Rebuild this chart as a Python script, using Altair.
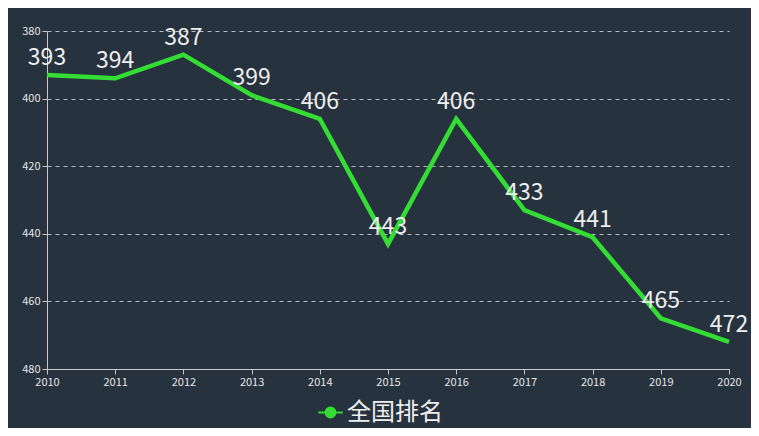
import altair as alt
import pandas as pd

years = [2010, 2011, 2012, 2013, 2014, 2015, 2016, 2017, 2018, 2019, 2020]
ranks = [393, 394, 387, 399, 406, 443, 406, 433, 441, 465, 472]
series = "全国排名"

df = pd.DataFrame({"year": years, "rank": ranks, "series": series})

BG = "#27323f"
GREEN = "#33dd33"
FONT = "Noto Sans CJK SC"

base = alt.Chart(df).encode(
    x=alt.X("year:Q", scale=alt.Scale(domain=[2010, 2020], nice=False),
            axis=alt.Axis(format="d", values=years, grid=False, title=None, labelFlush=False)),
    y=alt.Y("rank:Q", scale=alt.Scale(domain=[380, 480], reverse=True, nice=False, zero=False),
            axis=alt.Axis(values=[380, 400, 420, 440, 460, 480], title=None,
                          grid=True, gridDash=[4, 4], gridColor="#b8bcc2")),
)

line = base.mark_line(strokeWidth=4.5, color=GREEN).encode(
    color=alt.Color("series:N", scale=alt.Scale(range=[GREEN]),
                    legend=alt.Legend(title=None, orient="none", legendX=270, legendY=368,
                                      symbolType="M-1,0H1M-0.4,0A0.4,0.4,0,1,1,0.4,0A0.4,0.4,0,1,1,-0.4,0Z",
                                      symbolSize=600, symbolStrokeWidth=2, symbolFillColor=GREEN,
                                      symbolStrokeColor=GREEN,
                                      labelFontSize=24, labelColor="#eeeeee", labelFont=FONT,
                                      labelOffset=3))
)

labels = base.mark_text(fontSize=23, color="#eeeeee", font=FONT, dy=-10,
                        baseline="alphabetic").encode(text="rank:Q")

chart = (line + labels).properties(
    width=682, height=338,
    background=BG,
    autosize=alt.AutoSizeParams(type="none"),
    padding={"left": 39, "top": 23, "right": 22, "bottom": 59},
).configure_view(stroke=None).configure_axis(
    labelColor="#e6e6e6", labelFontSize=11, labelFont=FONT,
    domainColor="#c8c8c8", tickColor="#c8c8c8", tickSize=5,
    labelPadding=2,
)

chart.save("out.html", embed_options={"renderer": "svg", "actions": False})
